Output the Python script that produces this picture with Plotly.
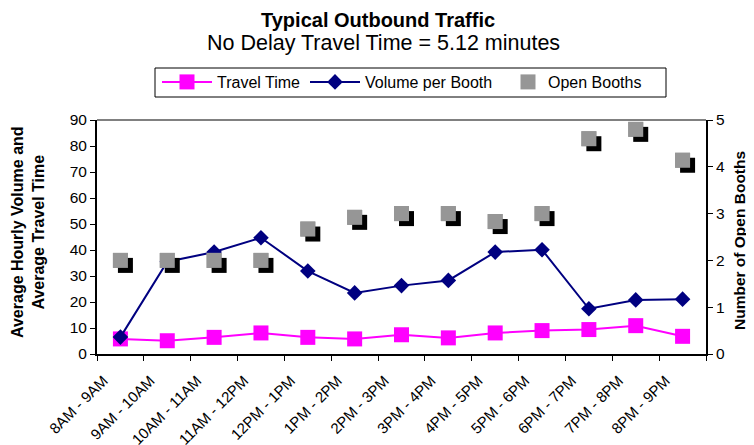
import plotly.graph_objects as go

categories = ["8AM - 9AM", "9AM - 10AM", "10AM - 11AM", "11AM - 12PM", "12PM - 1PM",
              "1PM - 2PM", "2PM - 3PM", "3PM - 4PM", "4PM - 5PM", "5PM - 6PM",
              "6PM - 7PM", "7PM - 8PM", "8PM - 9PM"]
travel_time = [5.8, 5.1, 6.4, 8.1, 6.4, 5.8, 7.4, 6.2, 8.1, 9.0, 9.4, 10.9, 6.8]
volume_per_booth = [6.5, 35.5, 39.2, 44.7, 31.9, 23.5, 26.3, 28.3, 39.2, 40.1, 17.4, 20.8, 21.1]
open_booths = [2.0, 2.0, 2.0, 2.0, 2.67, 2.92, 3.0, 3.0, 2.83, 3.0, 4.6, 4.8, 4.14]

left_ticks = list(range(0, 91, 10))
right_ticks = list(range(0, 6))

FONT = "Liberation Sans, Arial, sans-serif"
# the page body has an 8px default margin; size the figure to fill the rest of the window
OFF = 8
W, H = 754 - OFF, 445 - OFF
PW, PH = 609, 234
ML, MT = 97 - OFF, 120 - OFF
MR = W - ML - PW
MB = H - MT - PH


def px_x(px):
    """window pixel -> paper x"""
    return (px - OFF - ML) / PW


def px_y(py):
    """window pixel -> paper y"""
    return 1 + (MT - (py - OFF)) / PH


n = len(categories)
# shadow offset in pixels, converted through axis scales
sx_px, sy_px = 5, 5
dx = sx_px / (PW / n)
dy = sy_px / (PH / 5)

fig = go.Figure()
fig.add_trace(go.Scatter(x=categories, y=travel_time, name="Travel Time", mode="lines+markers",
                         line=dict(color="#FF00FF", width=2),
                         marker=dict(symbol="square", size=15, color="#FF00FF"),
                         xaxis="x", yaxis="y", legend="legend"))
fig.add_trace(go.Scatter(x=categories, y=volume_per_booth, name="Volume per Booth", mode="lines+markers",
                         line=dict(color="#000080", width=2),
                         marker=dict(symbol="diamond", size=12, color="#000080"),
                         xaxis="x", yaxis="y", legend="legend2"))
fig.add_trace(go.Scatter(x=categories, y=open_booths, name="Open Booths", mode="markers",
                         marker=dict(symbol="square", size=15, color="#969696"),
                         xaxis="x", yaxis="y2", legend="legend3"))
# shadow of open booths
fig.add_trace(go.Scatter(x=categories, y=open_booths, name="shadow", mode="markers",
                         marker=dict(symbol="square", size=15, color="#000000"),
                         showlegend=False, hoverinfo="skip",
                         xaxis="x2", yaxis="y3"))
fig.add_trace(go.Scatter(x=categories, y=open_booths, name="Open Booths", mode="markers",
                         marker=dict(symbol="square", size=15, color="#969696"),
                         showlegend=False,
                         xaxis="x3", yaxis="y4"))

leg_common = dict(orientation="h", xanchor="left", yanchor="middle", y=px_y(82),
                  bgcolor="rgba(0,0,0,0)", borderwidth=0, font=dict(family=FONT, size=16))

fig.update_layout(
    width=W, height=H,
    margin=dict(l=ML, r=MR, t=MT, b=MB, autoexpand=False),
    paper_bgcolor="white", plot_bgcolor="white",
    font=dict(family=FONT, size=16, color="black"),
    showlegend=True,
    legend=dict(x=px_x(157), itemwidth=50, **leg_common),
    legend2=dict(x=px_x(305), itemwidth=50, **leg_common),
    legend3=dict(x=px_x(508), itemwidth=30, **leg_common),
    xaxis=dict(type="category", categoryorder="array", categoryarray=categories,
               range=[-0.5, n - 0.5], tickson="boundaries", ticks="outside", ticklen=5,
               tickcolor="black", showline=True, linecolor="black", linewidth=2,
               tickangle=-45, tickfont=dict(size=15), showgrid=False, zeroline=False,
               ticklabelstandoff=10, ticklabelshift=-17, automargin=False),
    xaxis2=dict(type="category", categoryorder="array", categoryarray=categories,
                range=[-0.5 - dx, n - 0.5 - dx], overlaying="x", visible=False, automargin=False),
    xaxis3=dict(type="category", categoryorder="array", categoryarray=categories,
                range=[-0.5, n - 0.5], overlaying="x", visible=False, automargin=False),
    yaxis=dict(range=[0, 90], tickvals=left_ticks, ticks="outside", ticklen=5, tickcolor="black",
               showline=True, linecolor="black", linewidth=2, showgrid=False, zeroline=False,
               tickfont=dict(size=15.5), automargin=False),
    yaxis2=dict(range=[0, 5], tickvals=right_ticks, overlaying="y", side="right",
                ticks="outside", ticklen=5, tickcolor="black", showline=True, linecolor="black",
                linewidth=2, showgrid=False, zeroline=False, tickfont=dict(size=15.5),
                automargin=False),
    yaxis3=dict(range=[dy, 5 + dy], overlaying="y", visible=False, automargin=False),
    yaxis4=dict(range=[0, 5], overlaying="y", visible=False, automargin=False),
)

# plot-area top border
fig.add_shape(type="line", xref="paper", yref="paper", x0=0, x1=1, y0=1, y1=1,
              line=dict(color="#808080", width=2))
# legend frame
fig.add_shape(type="rect", xref="paper", yref="paper", x0=px_x(155), x1=px_x(666),
              y0=px_y(97), y1=px_y(68), line=dict(color="black", width=1),
              fillcolor="white", layer="below")

fig.add_annotation(text="<b>Typical Outbound Traffic</b>", xref="paper", yref="paper",
                   x=px_x(378), y=px_y(20), xanchor="center", yanchor="middle",
                   showarrow=False, font=dict(family=FONT, size=20))
fig.add_annotation(text="No Delay Travel Time = 5.12 minutes", xref="paper", yref="paper",
                   x=px_x(383), y=px_y(43), xanchor="center", yanchor="middle",
                   showarrow=False, font=dict(family=FONT, size=21.5))
fig.add_annotation(text="<b>Average Hourly Volume and<br>Average Travel Time</b>",
                   xref="paper", yref="paper", x=px_x(28), y=px_y(232),
                   xanchor="center", yanchor="middle", textangle=-90, showarrow=False,
                   font=dict(family=FONT, size=16))
fig.add_annotation(text="<b>Number of Open Booths</b>",
                   xref="paper", yref="paper", x=px_x(739), y=px_y(241),
                   xanchor="center", yanchor="middle", textangle=-90, showarrow=False,
                   font=dict(family=FONT, size=15.5))

fig.write_html("out.html")
